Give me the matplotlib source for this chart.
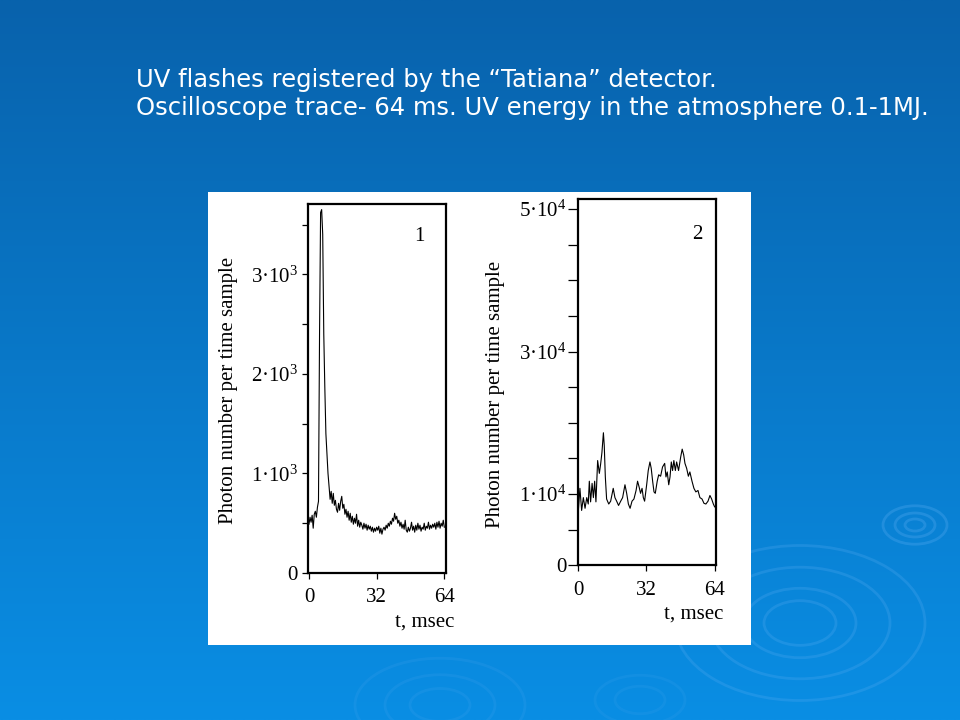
import numpy as np
import matplotlib
matplotlib.use("Agg")
import matplotlib.pyplot as plt
from matplotlib.patches import Rectangle, Ellipse

# ---------------- data ----------------
title_lines = ["UV flashes registered by the \u201cTatiana\u201d detector.",
               "Oscilloscope trace- 64 ms. UV energy in the atmosphere 0.1-1MJ."]

# Panel 1: sampled every 0.5 ms from 0 to 64 ms
sample_step_ms = 0.5
y1 = [490, 560, 510, 580, 450, 590, 620, 560, 660, 720,
      2400, 3620, 3650, 3400, 2400, 1860, 1400, 1190, 1000, 870,
      740, 820, 700, 800, 680, 730, 640, 610, 700, 630,
      720, 770, 650, 690, 590, 640, 560, 620, 530, 600,
      510, 570, 490, 550, 500, 590, 470, 530, 460, 510,
      480, 440, 500, 450, 490, 430, 480, 440, 470, 420,
      460, 410, 450, 420, 460, 430, 470, 400, 450, 390,
      440, 460, 430, 480, 450, 500, 470, 520, 490, 550,
      520, 600, 540, 570, 500, 530, 470, 510, 450, 490,
      440, 530, 430, 410, 460, 420, 450, 510, 430, 470,
      410, 480, 430, 500, 440, 480, 420, 460, 440, 500,
      430, 470, 450, 510, 440, 480, 450, 490, 460, 500,
      440, 510, 460, 520, 450, 500, 470, 530, 460]
t1 = np.arange(len(y1)) * sample_step_ms

# Panel 2
t2 = [0.0, 0.9, 1.7, 2.5, 3.3, 4.1, 4.8, 5.3, 5.9, 6.6, 7.2, 7.8, 8.4, 9.2, 10.0,
      10.6, 11.2, 11.9, 12.3, 12.8, 13.4, 14.4, 15.3, 16.5, 17.3, 18.1, 19.0, 20.0,
      20.9, 22.0, 22.8, 23.6, 24.4, 25.3, 26.2, 27.2, 27.9, 28.7, 29.3, 30.0, 30.6,
      31.2, 32.2, 32.9, 33.7, 34.3, 35.0, 35.6, 36.2, 37.1, 37.8, 38.7, 39.6, 40.6,
      41.2, 41.8, 42.5, 43.1, 43.7, 44.3, 44.9, 45.6, 46.2, 47.1, 48.1, 48.8, 49.5,
      50.1, 50.9, 51.7, 52.4, 53.4, 54.3, 55.2, 56.2, 57.1, 58.1, 59.0, 59.9, 60.9,
      61.8, 62.6, 63.4, 64.0]
y2 = [7000, 10800, 7700, 9500, 8000, 9500, 8600, 11800, 8900, 11500, 9500, 11800, 8900, 14700, 12900,
      14200, 15800, 18600, 16800, 12400, 9300, 8600, 9000, 10800, 9500, 9000, 8400, 9000,
      9500, 11300, 10100, 8600, 8000, 9000, 9300, 10500, 11800, 10900, 10100, 10800, 9500,
      9000, 11400, 13300, 14500, 13600, 11700, 10300, 10100, 11800, 12700, 12500, 13800, 14300,
      12400, 13100, 11300, 12400, 14500, 13300, 14700, 13300, 14500, 13300, 15200, 16300, 15500,
      14300, 13600, 12500, 13100, 11800, 10800, 10300, 10500, 9500, 9300, 8700, 8600, 9000,
      9800, 9300, 8600, 8200]

x_ticks = [0, 32, 64]
x_ticklabels = ["0", "32", "64"]
y1_major = [0, 1000, 2000, 3000]
y1_labels = ["0", "1\u00b710$^{3}$", "2\u00b710$^{3}$", "3\u00b710$^{3}$"]
y1_minor = [500, 1500, 2500, 3500]
y2_major = [0, 10000, 30000, 50000]
y2_labels = ["0", "1\u00b710$^{4}$", "3\u00b710$^{4}$", "5\u00b710$^{4}$"]
y2_minor = [5000, 15000, 20000, 25000, 35000, 40000, 45000]
ylabel = "Photon number per time sample"
xlabel = "t, msec"
panel_names = ["1", "2"]

# ---------------- style ----------------
plt.rcParams['font.family'] = ['Liberation Serif', 'DejaVu Serif']
plt.rcParams['mathtext.fontset'] = 'custom'
plt.rcParams['mathtext.rm'] = 'Liberation Serif'
plt.rcParams['mathtext.it'] = 'Liberation Serif:italic'
plt.rcParams['mathtext.bf'] = 'Liberation Serif:bold'

W, H = 960, 720
fig = plt.figure(figsize=(9.6, 7.2), dpi=100)

# background
bg = fig.add_axes([0, 0, 1, 1], zorder=0)
top_c = np.array([8, 98, 172]) / 255.0
bot_c = np.array([10, 142, 228]) / 255.0
frac = np.linspace(0, 1, 256)[:, None, None]
grad = top_c[None, None, :] * (1 - frac) + bot_c[None, None, :] * frac
grad = np.repeat(grad, 2, axis=1)
bg.imshow(grad, extent=[0, W, H, 0], aspect='auto', interpolation='bilinear')
bg.set_xlim(0, W)
bg.set_ylim(H, 0)
bg.axis('off')

ring_col = (0.35, 0.68, 0.95)
def ripple(cx, cy, radii, ratio, alpha):
    for r in radii:
        bg.add_patch(Ellipse((cx, cy), 2 * r, 2 * r * ratio, fill=False,
                             edgecolor=ring_col, lw=2.0, alpha=alpha))
ripple(800, 623, [36, 56, 90, 125], 0.62, 0.25)
ripple(915, 525, [10, 20, 32], 0.6, 0.3)
ripple(440, 705, [30, 55, 85], 0.55, 0.14)
ripple(640, 700, [25, 45], 0.55, 0.12)

bg.add_patch(Rectangle((208, 192), 543, 453, facecolor='white', edgecolor='none'))

for i, line in enumerate(title_lines):
    fig.text(136 / W, 1 - (80 + 28 * i) / H, line, color='white',
             family=['DejaVu Sans'], fontsize=17.5, va='center', ha='left')

def setup(ax, ticklen_y, pad_y, pad_x):
    for s in ax.spines.values():
        s.set_linewidth(1.6)
        s.set_color('black')
    ax.set_facecolor('white')
    ax.tick_params(axis='both', which='both', direction='out', colors='black',
                   labelsize=15, width=0.9)
    ax.tick_params(axis='x', which='both', length=4, pad=pad_x)
    ax.tick_params(axis='y', which='both', length=ticklen_y, pad=pad_y)
    ax.set_xticks(x_ticks, labels=x_ticklabels)

# panel 1
ax1 = fig.add_axes([307.7 / W, 1 - 573 / H, 138.3 / W, 369 / H], zorder=2)
ax1.plot(t1, y1, color='black', lw=0.8)
ax1.set_xlim(-0.6, 64.8)
ax1.set_ylim(0, 3706)
setup(ax1, 4, 3.0, 7)
ax1.set_yticks(y1_major, labels=y1_labels)
ax1.set_yticks(y1_minor, minor=True)
ax1.text(-0.576, 0.496, ylabel, rotation=90, ha='center', va='center',
         fontsize=15, transform=ax1.transAxes)
ax1.text(0.848, -0.132, xlabel, ha='center', va='center', fontsize=15,
         transform=ax1.transAxes)
ax1.text(0.808, 0.913, panel_names[0], ha='center', va='center', fontsize=15,
         transform=ax1.transAxes)

# panel 2
ax2 = fig.add_axes([578 / W, 1 - 565.3 / H, 137.7 / W, 366.3 / H], zorder=2)
ax2.plot(t2, y2, color='black', lw=0.8)
ax2.set_xlim(0, 64.5)
ax2.set_ylim(0, 51400)
setup(ax2, 7, 1.0, 7)
ax2.set_yticks(y2_major, labels=y2_labels)
ax2.set_yticks(y2_minor, minor=True)
ax2.text(-0.599, 0.466, ylabel, rotation=90, ha='center', va='center',
         fontsize=15, transform=ax2.transAxes)
ax2.text(0.842, -0.132, xlabel, ha='center', va='center', fontsize=15,
         transform=ax2.transAxes)
ax2.text(0.868, 0.902, panel_names[1], ha='center', va='center', fontsize=15,
         transform=ax2.transAxes)

fig.savefig("out.png", dpi=100)
